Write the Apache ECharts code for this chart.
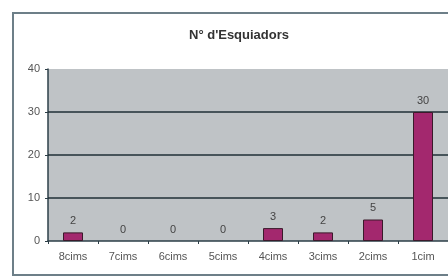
<!DOCTYPE html>
<html>
<head>
<meta charset="utf-8">
<script src="https://cdn.jsdelivr.net/npm/echarts@6/dist/echarts.min.js"></script>
<style>
  html, body { margin: 0; padding: 0; background: #fff; }
  #chart { width: 448px; height: 277px; }
</style>
</head>
<body>
<div id="chart"></div>
<script>
  // categories and counts
  var categories = ['8cims', '7cims', '6cims', '5cims', '4cims', '3cims', '2cims', '1cim'];
  var skiers = [2, 0, 0, 0, 3, 2, 5, 30];
  var yTicks = [0, 10, 20, 30, 40];
  // gridlines drawn only inside the plot (no line on the 40 edge)
  var gridLines = [10, 20, 30];

  var chart = echarts.init(document.getElementById('chart'));
  chart.setOption({
    animation: false,
    title: {
      text: 'N° d\'Esquiadors',
      left: 234,
      textAlign: 'center',
      top: 24,
      textStyle: { fontSize: 13, fontWeight: 'bold', color: '#333', fontFamily: 'Arial, Liberation Sans' }
    },
    graphic: [{
      type: 'rect',
      shape: { x: 13, y: 13, width: 460, height: 262 },
      style: { fill: 'none', stroke: '#6d7f88', lineWidth: 2 },
      z: -1
    }],
    grid: { left: 48, right: 0, top: 69, bottom: 36, backgroundColor: '#bfc3c6', show: true, borderWidth: 0 },
    xAxis: {
      type: 'category',
      data: categories,
      axisLine: { lineStyle: { color: '#2d3f48', width: 1.5 } },
      axisTick: { show: true, length: 3, lineStyle: { color: '#2d3f48' } },
      axisLabel: { fontSize: 11, color: '#555', margin: 10, fontFamily: 'Arial, Liberation Sans' }
    },
    yAxis: {
      type: 'value',
      min: yTicks[0],
      max: yTicks[yTicks.length - 1],
      interval: 10,
      axisLine: { show: true, lineStyle: { color: '#2d3f48', width: 1.5 } },
      axisTick: { show: true, length: 3, lineStyle: { color: '#2d3f48' } },
      axisLabel: { fontSize: 11, color: '#555', margin: 8, fontFamily: 'Arial, Liberation Sans' },
      splitLine: { show: false }
    },
    series: [{
      // carrier series for the horizontal gridlines, kept behind the bars
      type: 'line',
      data: [],
      z: 1,
      markLine: {
        silent: true,
        symbol: 'none',
        label: { show: false },
        lineStyle: { color: '#1f2f36', width: 1.5, type: 'solid' },
        data: gridLines.map(function (v) { return { yAxis: v }; })
      }
    }, {
      type: 'bar',
      z: 5,
      data: skiers.map(function (v) {
        return v === 0 ? { value: v, itemStyle: { borderWidth: 0 } } : v;
      }),
      barWidth: 20,
      itemStyle: { color: '#a3286e', borderColor: '#3a1a2a', borderWidth: 1 },
      label: { show: true, position: 'top', fontSize: 11, color: '#444', distance: 6 }
    }]
  });
</script>
</body>
</html>
